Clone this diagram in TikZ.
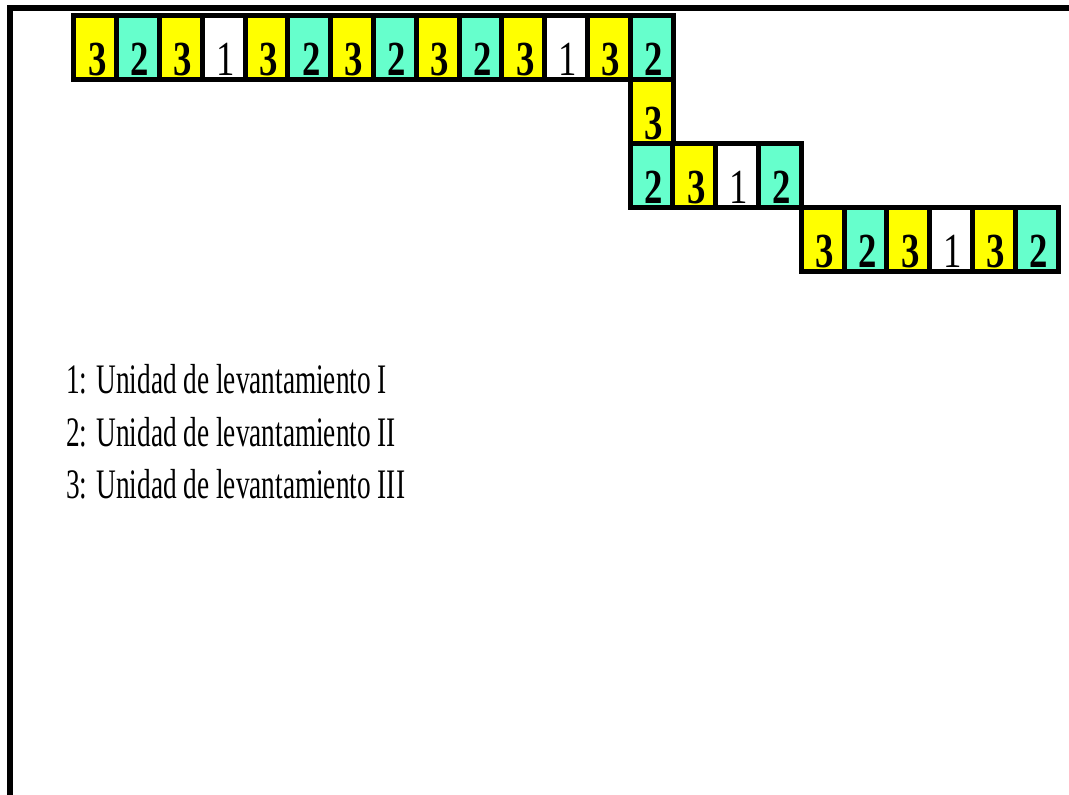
\documentclass[tikz,border=0pt]{standalone}
\usepackage{fontspec}
\setmainfont{Liberation Serif}
\usepackage{graphicx}
\definecolor{cyel}{HTML}{FFFF00}
\definecolor{caqua}{HTML}{66FFCC}
\tikzset{
  cellbox/.style={draw=black, line width=5pt, minimum width=42.8pt, minimum height=64pt, inner sep=0pt, outer sep=0pt},
  u1/.style={cellbox, fill=white},
  u2/.style={cellbox, fill=caqua},
  u3/.style={cellbox, fill=cyel},
  digit/.style={anchor=base, inner sep=0pt, font=\fontsize{49}{49}\selectfont},
  legend/.style={anchor=base west, inner sep=0pt, font=\fontsize{42}{42}\selectfont},
}
\newcommand{\dg}[1]{\ifnum#1=1\relax\scalebox{0.75}[1]{1}\else\scalebox{0.75}[1]{\bfseries #1}\fi}
\begin{document}
\begin{tikzpicture}[x=1pt,y=-1pt]
\useasboundingbox (0,0) rectangle (1069,795);
% frame
\draw[line width=6pt, line join=miter] (10,800) -- (10,8) -- (1075,8);
% row 1
\foreach \v [count=\i] in {3,2,3,1,3,2,3,2,3,2,3,1,3,2} {
  \node[u\v] (a\i) at ({73.8+42.8*(\i-0.5)},47.2) {};
  \node[digit] (ad\i) at ([xshift=2pt,yshift=4pt]a\i.south) {\dg{\v}};
}
% column
\node[u3] (b1) at (651.6,111.2) {};
\node[digit] (bd1) at ([xshift=2pt,yshift=4pt]b1.south) {\dg{3}};
% row 3
\foreach \v [count=\i] in {2,3,1,2} {
  \node[u\v] (c\i) at ({630+42.8*(\i-0.5)},175.3) {};
  \node[digit] (cd\i) at ([xshift=2pt,yshift=4pt]c\i.south) {\dg{\v}};
}
% row 4
\foreach \v [count=\i] in {3,2,3,1,3,2} {
  \node[u\v] (e\i) at ({801.2+42.8*(\i-0.5)},239.2) {};
  \node[digit] (ed\i) at ([xshift=2pt,yshift=4pt]e\i.south) {\dg{\v}};
}
% legend
\node[legend] (l1) at (66,393) {\scalebox{0.65}[1]{1: Unidad de levantamiento I}};
\node[legend] (l2) at (66,446) {\scalebox{0.65}[1]{2: Unidad de levantamiento II}};
\node[legend] (l3) at (66,498) {\scalebox{0.65}[1]{3: Unidad de levantamiento III}};
\end{tikzpicture}
\end{document}
